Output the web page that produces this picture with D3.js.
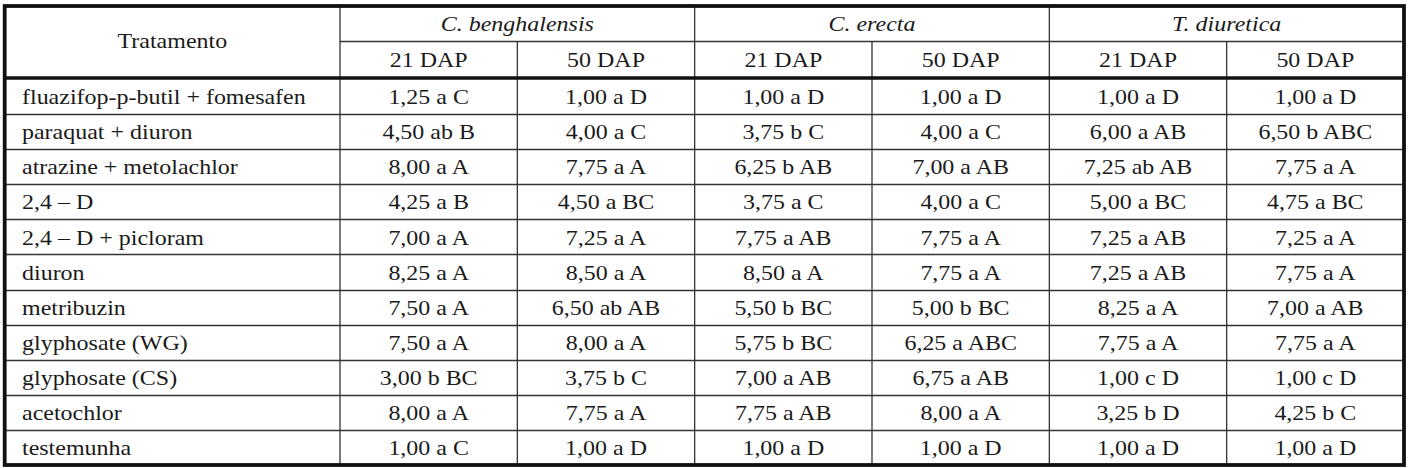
<!DOCTYPE html>
<html lang="pt">
<head>
    <meta charset="UTF-8">
    <title>Tabela</title>
    <script type="text/javascript" src="https://cdn.jsdelivr.net/npm/d3@7/dist/d3.min.js"></script>
    <style>
        body{margin:0;background:#fff;}
        text{font-family:"Liberation Serif","Times New Roman",serif;fill:#1a1a1a;}
    </style>
</head>
<body>
    <svg></svg>
    <script>
        //table content
        var treatments = ["fluazifop-p-butil + fomesafen","paraquat + diuron","atrazine + metolachlor","2,4 – D",
            "2,4 – D + picloram","diuron","metribuzin","glyphosate (WG)","glyphosate (CS)","acetochlor","testemunha"];
        var species = ["C. benghalensis","C. erecta","T. diuretica"];
        var periods = ["21 DAP","50 DAP"];
        var cb21 = ["1,25 a C","4,50 ab B","8,00 a A","4,25 a B","7,00 a A","8,25 a A","7,50 a A","7,50 a A","3,00 b BC","8,00 a A","1,00 a C"];
        var cb50 = ["1,00 a D","4,00 a C","7,75 a A","4,50 a BC","7,25 a A","8,50 a A","6,50 ab AB","8,00 a A","3,75 b C","7,75 a A","1,00 a D"];
        var ce21 = ["1,00 a D","3,75 b C","6,25 b AB","3,75 a C","7,75 a AB","8,50 a A","5,50 b BC","5,75 b BC","7,00 a AB","7,75 a AB","1,00 a D"];
        var ce50 = ["1,00 a D","4,00 a C","7,00 a AB","4,00 a C","7,75 a A","7,75 a A","5,00 b BC","6,25 a ABC","6,75 a AB","8,00 a A","1,00 a D"];
        var td21 = ["1,00 a D","6,00 a AB","7,25 ab AB","5,00 a BC","7,25 a AB","7,25 a AB","8,25 a A","7,75 a A","1,00 c D","3,25 b D","1,00 a D"];
        var td50 = ["1,00 a D","6,50 b ABC","7,75 a A","4,75 a BC","7,25 a A","7,75 a A","7,00 a AB","7,75 a A","1,00 c D","4,25 b C","1,00 a D"];
        var headerTitle = "Tratamento";

        var columns = [cb21,cb50,ce21,ce50,td21,td50];

        var W = 1408, H = 468;
        var leftX = 4.7, rightX = 1404, topY = 6, bottomY = 465;
        var firstColEnd = 340, head1 = 41.5, head2 = 78;
        var fontSize = 22, stretch = 1.09;

        var svg = d3.select("svg").attr("width",W).attr("height",H);

        //scales
        var yRow = d3.scaleBand().domain(d3.range(treatments.length)).range([head2+1,bottomY]);
        var xSpecies = d3.scaleBand().domain(species).range([firstColEnd,rightX]);
        var xCol = d3.scaleBand().domain(d3.range(columns.length)).range([firstColEnd,rightX]);

        //text helper, glyphs in the picture are a bit wider than the font
        function place(sel,fx,fy){
            sel.attr("transform",function(d,i){
                return "translate("+fx(d,i)+","+fy(d,i)+") scale("+stretch+",1)";
            })
            .attr("dominant-baseline","central")
            .attr("font-size",fontSize);
        }

        var grid = svg.append("g").attr("stroke","#333").attr("stroke-width",1.3);

        //row lines
        grid.selectAll("line.row")
            .data(d3.range(1,treatments.length))
            .enter()
            .append("line")
            .attr("x1",leftX).attr("x2",rightX)
            .attr("y1",function(i){return Math.round(yRow(i))+0.5})
            .attr("y2",function(i){return Math.round(yRow(i))+0.5});

        //header line under species
        grid.append("line")
            .attr("x1",firstColEnd).attr("x2",rightX)
            .attr("y1",head1).attr("y2",head1);

        //species dividers
        grid.selectAll("line.sp")
            .data(species)
            .enter()
            .append("line")
            .attr("x1",function(d){return xSpecies(d)}).attr("x2",function(d){return xSpecies(d)})
            .attr("y1",topY).attr("y2",bottomY);

        //sub-column dividers
        grid.selectAll("line.sub")
            .data(d3.range(1,columns.length,2))
            .enter()
            .append("line")
            .attr("x1",function(i){return xCol(i)}).attr("x2",function(i){return xCol(i)})
            .attr("y1",head1).attr("y2",bottomY);

        //thick lines
        svg.append("line")
            .attr("x1",leftX).attr("x2",rightX)
            .attr("y1",head2).attr("y2",head2)
            .attr("stroke","#111").attr("stroke-width",3.5);
        svg.append("rect")
            .attr("x",leftX).attr("y",topY)
            .attr("width",rightX-leftX).attr("height",bottomY-topY)
            .attr("fill","none").attr("stroke","#111").attr("stroke-width",3.8);

        //header texts
        svg.append("text")
            .attr("text-anchor","middle")
            .call(place,function(){return (leftX+firstColEnd)/2},function(){return (topY+head2)/2-1.5})
            .text(headerTitle);

        svg.selectAll("text.sp")
            .data(species)
            .enter()
            .append("text")
            .attr("text-anchor","middle").attr("font-style","italic")
            .call(place,function(d){return xSpecies(d)+xSpecies.bandwidth()/2},function(){return (topY+head1)/2-0.5})
            .text(function(d){return d});

        svg.selectAll("text.per")
            .data(d3.range(columns.length))
            .enter()
            .append("text")
            .attr("text-anchor","middle")
            .call(place,function(i){return xCol(i)+xCol.bandwidth()/2},function(){return (head1+head2)/2})
            .text(function(i){return periods[i%2]});

        //treatment names
        svg.selectAll("text.tr")
            .data(treatments)
            .enter()
            .append("text")
            .call(place,function(){return 22},function(d,i){return yRow(i)+yRow.bandwidth()/2})
            .text(function(d){return d});

        //cells
        columns.forEach(function(col,c){
            svg.append("g").selectAll("text")
                .data(col)
                .enter()
                .append("text")
                .attr("text-anchor","middle")
                .call(place,function(){return xCol(c)+xCol.bandwidth()/2},function(d,i){return yRow(i)+yRow.bandwidth()/2})
                .text(function(d){return d});
        });
    </script>
</body>
</html>
